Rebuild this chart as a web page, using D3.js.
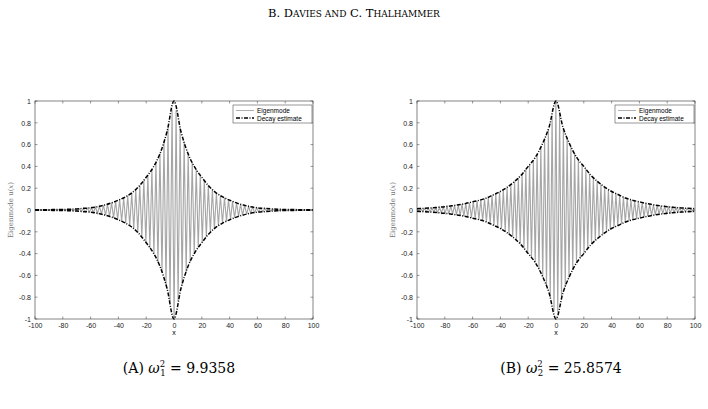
<!DOCTYPE html><html><head><meta charset="utf-8"><script src="https://cdn.jsdelivr.net/npm/d3@7"></script>
<style>body{margin:0;background:#fff}svg{font-family:"Liberation Sans",Arial,sans-serif}</style></head><body>
<script>
const envX = [0,5,10,15,20,25,30,35,40,45,50,55,60,65,70,75,80,85,90,95,100];
const envA = [1,0.72,0.52,0.39,0.3,0.22,0.16,0.12,0.09,0.065,0.045,0.03,0.02,0.015,0.01,0.007,0.005,0.004,0.003,0.002,0.002];
const envB = [1,0.76,0.6,0.48,0.4,0.32,0.26,0.21,0.17,0.14,0.11,0.09,0.075,0.06,0.048,0.038,0.03,0.024,0.019,0.015,0.012];
const halfPeriodA = 1.45, halfPeriodB = 1.35;
const xTicks = [-100,-80,-60,-40,-20,0,20,40,60,80,100];
const yTicks = [-1,-0.8,-0.6,-0.4,-0.2,0,0.2,0.4,0.6,0.8,1];

const svg = d3.select("body").append("svg").attr("width",708).attr("height",409);
svg.append("text").attr("x",354).attr("y",17).attr("text-anchor","middle")
  .style("font-family","'DejaVu Serif',serif").style("font-size","11.5px")
  .html('B. D<tspan font-size="9px">AVIES AND</tspan> C. T<tspan font-size="9px">HALHAMMER</tspan>');

function panel(x0,x1,env,hp,cap){
  const x = d3.scaleLinear().domain([-100,100]).range([x0,x1]);
  const y = d3.scaleLinear().domain([-1,1]).range([319,101]);
  const g = svg.append("g");
  g.append("rect").attr("x",x0).attr("y",101).attr("width",x1-x0).attr("height",218).attr("fill","#fff").attr("stroke","#333").attr("stroke-width",0.6);
  const envAt = v => { const a=Math.abs(v); const i=Math.min(d3.bisectRight(envX,a)-1,envX.length-2); const t=(a-envX[i])/(envX[i+1]-envX[i]); return env[i]+(env[i+1]-env[i])*t; };
  const pts=[]; let k=0;
  for(let v=-100; v<=100.001; v+=hp, k++) pts.push([v, (k%2?-1:1)*envAt(v)]);
  g.append("path").attr("d",d3.line().x(d=>x(d[0])).y(d=>y(d[1]))(pts)).attr("fill","none").attr("stroke","#a5a5a5").attr("stroke-width",1.1);
  const up = envX.slice().reverse().map((v,i)=>[-v,env[envX.length-1-i]]).concat(envX.slice(1).map((v,i)=>[v,env[i+1]]));
  [1,-1].forEach(s=>g.append("path").attr("d",d3.line().x(d=>x(d[0])).y(d=>y(s*d[1])).curve(d3.curveMonotoneX)(up))
    .attr("fill","none").attr("stroke","#000").attr("stroke-width",1.5).attr("stroke-dasharray","4,1.5,1,1.5"));
  const fmt = d => d3.format("~g")(d).replace("−","-");
  const ax = g.append("g").attr("transform","translate(0,319)").call(d3.axisBottom(x).tickValues(xTicks).tickFormat(fmt).tickSize(0).tickPadding(4));
  const ay = g.append("g").attr("transform",`translate(${x0},0)`).call(d3.axisLeft(y).tickValues(yTicks).tickFormat(fmt).tickSize(0).tickPadding(4));
  [ax,ay].forEach(a=>{a.select(".domain").remove();a.selectAll("text").style("font-size","7px").attr("fill","#222");});
  xTicks.forEach(t=>{g.append("line").attr("x1",x(t)).attr("x2",x(t)).attr("y1",319).attr("y2",316.5).attr("stroke","#333").attr("stroke-width",0.5);
    g.append("line").attr("x1",x(t)).attr("x2",x(t)).attr("y1",101).attr("y2",103.5).attr("stroke","#333").attr("stroke-width",0.5);});
  yTicks.forEach(t=>{g.append("line").attr("x1",x0).attr("x2",x0+2.5).attr("y1",y(t)).attr("y2",y(t)).attr("stroke","#333").attr("stroke-width",0.5);
    g.append("line").attr("x1",x1).attr("x2",x1-2.5).attr("y1",y(t)).attr("y2",y(t)).attr("stroke","#333").attr("stroke-width",0.5);});
  g.append("text").attr("x",(x0+x1)/2).attr("y",335).attr("text-anchor","middle").style("font-size","7px").text("x");
  g.append("text").attr("transform",`translate(${x0-22},210) rotate(-90)`).attr("text-anchor","middle").attr("fill","#777")
    .style("font-family","'DejaVu Serif',serif").style("font-size","7px").html('Eigenmode u(<tspan font-style="italic">x</tspan>)');
  const lx=x1-80, ly=105;
  g.append("rect").attr("x",lx).attr("y",ly).attr("width",79).attr("height",18).attr("fill","#fff").attr("stroke","#333").attr("stroke-width",0.5);
  g.append("line").attr("x1",lx+3).attr("x2",lx+21).attr("y1",ly+5.5).attr("y2",ly+5.5).attr("stroke","#9a9a9a").attr("stroke-width",0.8);
  g.append("line").attr("x1",lx+3).attr("x2",lx+21).attr("y1",ly+13).attr("y2",ly+13).attr("stroke","#000").attr("stroke-width",1.5).attr("stroke-dasharray","4,1.5,1,1.5");
  g.append("text").attr("x",lx+24).attr("y",ly+8).style("font-size","6.5px").text("Eigenmode");
  g.append("text").attr("x",lx+24).attr("y",ly+15.5).style("font-size","6.5px").text("Decay estimate");
  svg.append("text").attr("x",(x0+x1)/2+5).attr("y",373).attr("text-anchor","middle").style("font-family","'DejaVu Serif',serif").style("font-size","14px").html(cap);
}
panel(35,313,envA,halfPeriodA,'(A) <tspan font-style="italic">ω</tspan><tspan font-size="8.5px" dy="-6">2</tspan><tspan font-size="8.5px" dx="-5" dy="9">1</tspan><tspan dy="-3"> = 9.9358</tspan>');
panel(417,695,envB,halfPeriodB,'(B) <tspan font-style="italic">ω</tspan><tspan font-size="8.5px" dy="-6">2</tspan><tspan font-size="8.5px" dx="-5" dy="9">2</tspan><tspan dy="-3"> = 25.8574</tspan>');
</script></body></html>
